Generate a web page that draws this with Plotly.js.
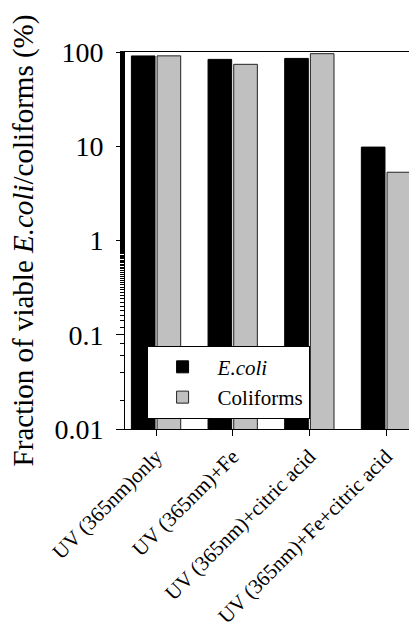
<!DOCTYPE html>
<html>
<head>
<meta charset="utf-8">
<script src="https://cdn.plot.ly/plotly-3.0.1.min.js"></script>
<style>html,body{margin:0;padding:0;overflow:hidden;background:#fff;}</style>
</head>
<body>
<div id="chart" style="width:409px;height:628px;"></div>
<script>
const categories = ["UV (365nm)only", "UV (365nm)+Fe", "UV (365nm)+citric acid", "UV (365nm)+Fe+citric acid"];
const ecoli = [90.8, 83.5, 85.5, 9.8];
const coliforms = [91, 74, 96, 5.3];
const yTickVals = [0.01, 0.1, 1, 10, 100];
const yTickText = ["0.01", "0.1", "1", "10", "100"];

const FONT = "'Liberation Serif', 'Times New Roman', Times, serif";

const traces = [
  {type: "bar", name: "<i>E.coli</i>", x: categories, y: ecoli,
   marker: {color: "#000000", line: {color: "#000000", width: 1}}},
  {type: "bar", name: "Coliforms", x: categories, y: coliforms,
   marker: {color: "#c0c0c0", line: {color: "#222222", width: 1}}}
];

const layout = {
  width: 409, height: 628,
  margin: {l: 125, r: 0, t: 52, b: 199},
  paper_bgcolor: "#ffffff", plot_bgcolor: "#ffffff",
  font: {family: FONT, color: "#000", size: 21},
  barmode: "group", bargap: 0.33, bargroupgap: 0.08,
  showlegend: true,
  legend: {x: 0.076, y: 0.221, xanchor: "left", yanchor: "top",
           bordercolor: "#000", borderwidth: 1, bgcolor: "#fff",
           font: {family: FONT, size: 21, color: "#000"},
           itemwidth: 60, tracegroupgap: 0},
  xaxis: {type: "category", range: [-0.405, 3.30],
          showline: true, linecolor: "#000", linewidth: 1, mirror: true,
          ticks: "outside", ticklen: 6, tickcolor: "#000",
          tickangle: -45, tickfont: {family: FONT, size: 21, color: "#000"},
          showgrid: false, zeroline: false, automargin: false},
  yaxis: {type: "log", range: [-2, 2],
          tickvals: yTickVals, ticktext: yTickText,
          showline: true, linecolor: "#000", linewidth: 1,
          ticks: "outside", ticklen: 8, tickcolor: "#000",
          ticklabelstandoff: 7,
          minor: {ticks: "outside", ticklen: 4, tickcolor: "#000", showgrid: false},
          tickfont: {family: FONT, size: 28, color: "#000"},
          showgrid: false, zeroline: false, automargin: false,
          title: {text: "Fraction of viable <i>E.coli</i>/coliforms (%)",
                  font: {family: FONT, size: 29, color: "#000"}, standoff: 12}}
};

Plotly.newPlot("chart", traces, layout, {displayModeBar: false, staticPlot: true});
</script>
</body>
</html>
